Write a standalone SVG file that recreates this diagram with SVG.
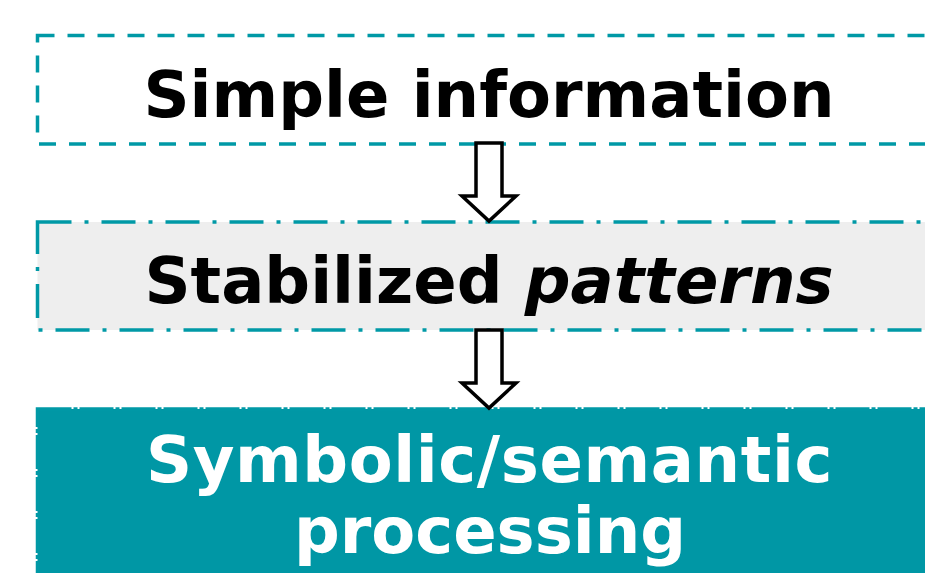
<svg xmlns="http://www.w3.org/2000/svg" width="925" height="573" viewBox="0 0 925 573">
  <style>
    .lbl { font-family: "DejaVu Sans", Verdana, sans-serif; font-weight: bold; font-size: 64px; text-anchor: middle; }
    .box { stroke: #0099a6; stroke-width: 3.5; }
    .arrow { fill: #ffffff; stroke: #000000; stroke-width: 3.5; stroke-linejoin: miter; }
  </style>
  <rect width="925" height="573" fill="#ffffff"/>
  <g id="node-simple">
    <rect class="box" x="37.5" y="35.5" width="900" height="108.5" fill="#ffffff" stroke-dasharray="17 13"/>
    <text class="lbl" x="489" y="117" fill="#000000">Simple information</text>
  </g>
  <g id="node-stabilized">
    <rect class="box" x="37.5" y="222" width="900" height="108" fill="#eeeeee" stroke-dasharray="34 13 4 13"/>
    <text class="lbl" x="489" y="303" fill="#000000" font-size="63.5">Stabilized <tspan font-style="italic">patterns</tspan></text>
  </g>
  <g id="node-symbolic">
    <rect class="box" x="37.5" y="409" width="900" height="180" fill="#0097a5" stroke="#0097a5" stroke-dasharray="34 2 4 2"/>
    <text class="lbl" x="489.5" y="482" fill="#ffffff" font-size="64" letter-spacing="0.6">Symbolic/semantic</text>
    <text class="lbl" x="490" y="553" fill="#ffffff">processing</text>
  </g>
  <g id="connectors">
    <path class="arrow" d="M476,143 L502,143 L502,196 L516,196 L489,221 L462,196 L476,196 Z"/>
    <path class="arrow" d="M476,330 L502,330 L502,383 L516,383 L489,408 L462,383 L476,383 Z"/>
  </g>
</svg>
